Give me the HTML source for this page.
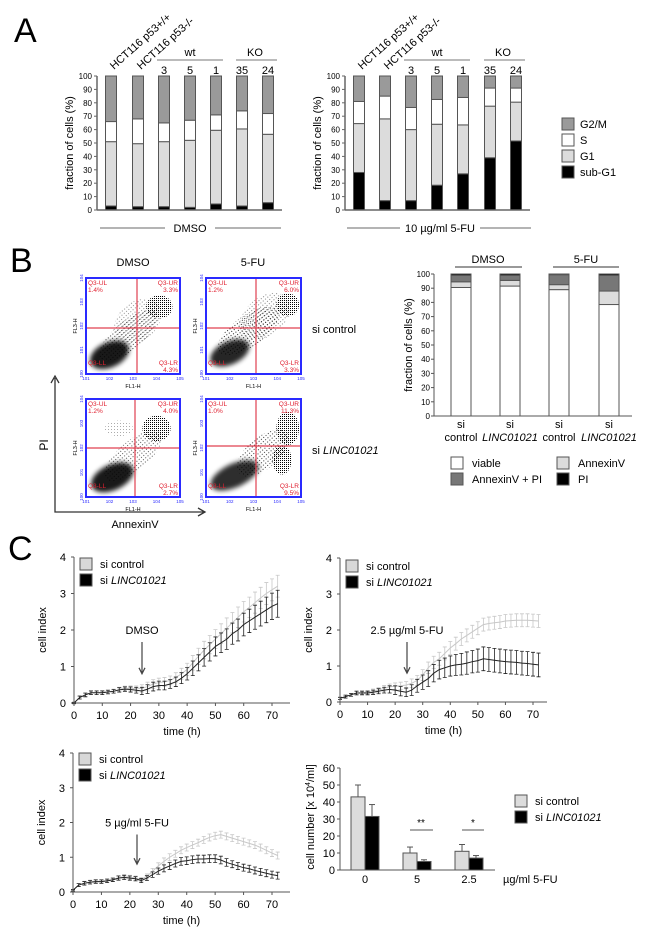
<!DOCTYPE html>
<html><head><meta charset="utf-8"><style>
html,body{margin:0;padding:0;background:#fff}
svg{display:block;font-family:"Liberation Sans",Arial,sans-serif}
</style></head><body>
<svg id="fig" width="650" height="934" viewBox="0 0 650 934" xmlns="http://www.w3.org/2000/svg">
<defs>
<filter id="blur" x="-50%" y="-50%" width="200%" height="200%"><feGaussianBlur stdDeviation="2.5"/></filter>
<pattern id="dots" width="3" height="3" patternUnits="userSpaceOnUse"><rect x="0" y="0" width="1" height="1" fill="#000"/></pattern>
<pattern id="dots2" width="2" height="2" patternUnits="userSpaceOnUse"><rect x="0" y="0" width="1" height="1" fill="#000"/></pattern>
</defs>
<text x="14" y="42" font-size="34">A</text>
<text x="10" y="272" font-size="34">B</text>
<text x="8" y="560" font-size="34">C</text>
</svg>
<script>
// ---------- data ----------
const aCats=["HCT116 p53+/+","HCT116 p53-/-","3","5","1","35","24"];
const aDmsoSub=[3,2.5,2.5,2,4.5,3,5.5];
const aDmsoG1=[48,47,48.5,50,55,57.5,51];
const aDmsoS=[15,18.5,14,15,11.5,13.5,15.5];
const aDmsoG2=[34,32,35,33,29,26,28];
const aFuSub=[28,7,7,18.5,27,39,51.5];
const aFuG1=[36.5,61,53,45.5,36.5,38.5,29];
const aFuS=[16.5,17,16.5,18.5,20.5,13.5,10.5];
const aFuG2=[19,15,23.5,17.5,16,9,9];
const pctTicks=[0,10,20,30,40,50,60,70,80,90,100];

const bViable=[90.5,91.5,89,78.5];
const bAnnexin=[4,4,3.5,9.5];
const bAnnPI=[4.5,3.5,7,11];
const bPI=[1,1,0.5,1];

const timeH=[0,2,4,6,8,10,12,14,16,18,20,22,24,26,28,30,32,34,36,38,40,42,44,46,48,50,52,54,56,58,60,62,64,66,68,70,72];
const c1Black=[0,0.15,0.22,0.28,0.28,0.28,0.3,0.32,0.36,0.38,0.37,0.35,0.33,0.38,0.45,0.48,0.48,0.52,0.58,0.68,0.8,0.95,1.1,1.25,1.4,1.55,1.65,1.75,1.9,2.0,2.15,2.25,2.35,2.45,2.55,2.65,2.72];
const c1BlackSd=[0.02,0.04,0.05,0.05,0.05,0.05,0.05,0.05,0.06,0.06,0.07,0.08,0.1,0.12,0.12,0.12,0.12,0.12,0.13,0.15,0.17,0.2,0.22,0.24,0.25,0.26,0.27,0.28,0.29,0.3,0.31,0.32,0.33,0.34,0.35,0.36,0.37];
const c1Gray=[0,0.15,0.23,0.28,0.28,0.29,0.31,0.33,0.37,0.4,0.4,0.39,0.4,0.45,0.52,0.56,0.58,0.62,0.7,0.8,0.92,1.1,1.28,1.45,1.6,1.75,1.9,2.05,2.2,2.35,2.5,2.62,2.75,2.88,3.0,3.1,3.2];
const c1GraySd=[0.02,0.04,0.05,0.05,0.05,0.05,0.05,0.05,0.06,0.06,0.07,0.08,0.1,0.12,0.12,0.12,0.12,0.12,0.13,0.15,0.17,0.2,0.22,0.24,0.25,0.26,0.27,0.28,0.28,0.28,0.28,0.28,0.29,0.29,0.3,0.3,0.3];
const c2Black=[0.1,0.15,0.2,0.25,0.25,0.25,0.27,0.3,0.33,0.35,0.33,0.3,0.27,0.33,0.45,0.55,0.65,0.8,0.9,0.95,1.0,1.03,1.05,1.08,1.12,1.15,1.2,1.18,1.16,1.14,1.12,1.11,1.1,1.08,1.07,1.05,1.03];
const c2BlackSd=[0.03,0.04,0.04,0.05,0.05,0.05,0.06,0.07,0.08,0.1,0.12,0.13,0.12,0.15,0.18,0.2,0.22,0.24,0.26,0.27,0.28,0.29,0.3,0.31,0.31,0.32,0.33,0.33,0.33,0.33,0.33,0.33,0.33,0.33,0.33,0.33,0.33];
const c2Gray=[0.1,0.15,0.2,0.25,0.26,0.27,0.3,0.33,0.38,0.42,0.44,0.45,0.47,0.52,0.6,0.75,0.95,1.1,1.2,1.35,1.5,1.62,1.75,1.85,1.95,2.05,2.15,2.18,2.2,2.22,2.25,2.26,2.27,2.27,2.27,2.26,2.25];
const c2GraySd=[0.03,0.04,0.04,0.05,0.05,0.05,0.06,0.07,0.08,0.08,0.09,0.1,0.1,0.12,0.14,0.15,0.16,0.17,0.18,0.18,0.18,0.18,0.18,0.18,0.18,0.18,0.18,0.18,0.18,0.18,0.18,0.18,0.18,0.18,0.18,0.18,0.18];
const c3Black=[0.05,0.2,0.25,0.28,0.3,0.3,0.32,0.35,0.4,0.42,0.4,0.38,0.33,0.4,0.5,0.6,0.68,0.75,0.82,0.88,0.9,0.93,0.95,0.95,0.96,0.96,0.92,0.85,0.8,0.75,0.7,0.67,0.62,0.58,0.54,0.5,0.47];
const c3BlackSd=[0.02,0.04,0.05,0.05,0.05,0.05,0.05,0.05,0.06,0.06,0.06,0.06,0.06,0.07,0.08,0.09,0.1,0.1,0.1,0.11,0.11,0.11,0.11,0.11,0.11,0.11,0.11,0.11,0.1,0.1,0.1,0.1,0.1,0.1,0.1,0.1,0.1];
const c3Gray=[0.05,0.2,0.26,0.29,0.31,0.31,0.33,0.36,0.41,0.44,0.42,0.4,0.36,0.45,0.6,0.75,0.88,1.0,1.1,1.2,1.28,1.35,1.42,1.5,1.57,1.62,1.65,1.6,1.55,1.5,1.45,1.4,1.35,1.28,1.2,1.12,1.05];
const c3GraySd=[0.02,0.04,0.05,0.05,0.05,0.05,0.05,0.05,0.06,0.06,0.06,0.06,0.06,0.07,0.08,0.09,0.1,0.1,0.1,0.1,0.1,0.1,0.1,0.1,0.1,0.1,0.1,0.1,0.1,0.1,0.1,0.1,0.1,0.1,0.1,0.1,0.1];
const ciTicks=[0,1,2,3,4];
const timeTicks=[0,10,20,30,40,50,60,70];

const dCats=["0","5","2.5"];
const dCtrl=[43,10,11];
const dCtrlErr=[7,3.5,4];
const dKd=[31.5,5,7];
const dKdErr=[7,1,1.5];
const dTicks=[0,10,20,30,40,50,60];

// ---------- helpers ----------
const NS="http://www.w3.org/2000/svg";
const svg=document.getElementById('fig');
function mk(tag,attrs,parent){const e=document.createElementNS(NS,tag);for(const k in attrs)e.setAttribute(k,attrs[k]);(parent||svg).appendChild(e);return e;}
function txt(x,y,s,size,anchor,extra,parent){const e=mk('text',Object.assign({x:x,y:y,'font-size':size,'text-anchor':anchor||'start'},extra||{}),parent);e.textContent=s;return e;}
function lin(d0,d1,r0,r1){return v=>r0+(v-d0)*(r1-r0)/(d1-d0);}

// ---------- Panel A stacked bars ----------
function stackChart(name,axX,axEnd,y0,y100,centers,segs,colors,ticks,bw){
  const y=lin(0,100,y0,y100);
  const g=mk('g',{});
  
  
  centers.forEach((cx,i)=>{
    let acc=0;
    segs.forEach((arr,s)=>{
      const r=mk('rect',{x:cx-bw/2,y:y(acc+arr[i]),width:bw,height:y(acc)-y(acc+arr[i]),fill:colors[s],stroke:'#555','stroke-width':1},g);
      
      
      acc+=arr[i];
    });
  });
  mk('line',{x1:axX,y1:y0,x2:axX,y2:y100,stroke:'#666','stroke-width':1.5},g);
  mk('line',{x1:axX,y1:y0,x2:axEnd,y2:y0,stroke:'#666','stroke-width':1.5},g);
  ticks.forEach(t=>{mk('line',{x1:axX-3,y1:y(t),x2:axX,y2:y(t),stroke:'#666'},g);txt(axX-5,y(t)+3,String(t),8,'end',{},g);});
  return g;
}
const aColors=['#000','#dcdcdc','#fff','#9a9a9a'];
const aLeftX=[111,138,164,190,216,242,268];
const aRightX=[359,385,411,437,463,490,516];
stackChart('dmso-cell-cycle-chart',97,282,210,76,aLeftX,[aDmsoSub,aDmsoG1,aDmsoS,aDmsoG2],aColors,pctTicks,11);
stackChart('5fu-cell-cycle-chart',345,530,210,76,aRightX,[aFuSub,aFuG1,aFuS,aFuG2],aColors,pctTicks,11);
txt(0,0,'fraction of cells (%)',11,'middle',{transform:'translate(73,143) rotate(-90)'});
txt(0,0,'fraction of cells (%)',11,'middle',{transform:'translate(321,143) rotate(-90)'});
[[aLeftX,0],[aRightX,0]].forEach(([xs])=>{
  for(let i=0;i<2;i++){const t=txt(0,0,aCats[i],11,'start',{transform:`translate(${xs[i]+3},${70}) rotate(-42)`});}
  for(let i=2;i<7;i++){const t=txt(xs[i],74,aCats[i],11,'middle');}
  mk('line',{x1:xs[2]-7,y1:60,x2:xs[4]+7,y2:60,stroke:'#777'});txt(xs[3],56,'wt',11,'middle');
  mk('line',{x1:xs[5]-6,y1:60,x2:xs[6]+9,y2:60,stroke:'#777'});txt((xs[5]+xs[6])/2,56,'KO',11,'middle');
});
mk('line',{x1:100,y1:228,x2:165,y2:228,stroke:'#888','stroke-width':1.2});mk('line',{x1:215,y1:228,x2:281,y2:228,stroke:'#888','stroke-width':1.2});
txt(190,232,'DMSO',11,'middle');
mk('line',{x1:347,y1:228,x2:400,y2:228,stroke:'#888','stroke-width':1.2});mk('line',{x1:480,y1:228,x2:531,y2:228,stroke:'#888','stroke-width':1.2});
txt(440,232,'10 µg/ml 5-FU',11,'middle');
[['G2/M','#9a9a9a',118],['S','#fff',134],['G1','#dcdcdc',150],['sub-G1','#000',166]].forEach(([l,c,yy])=>{
  const r=mk('rect',{x:562,y:yy,width:12,height:12,fill:c,stroke:'#555'});
  
  
  const t=txt(580,yy+10,l,11,'start');
  
  
});

// ---------- Panel B flow plots ----------
function flow(name,x0,y0,w,h,vx,hy,labels,dense){
  const g=mk('g',{});
  
  
  const cp='cp'+name;
  const clip=mk('clipPath',{id:cp},g);
  mk('rect',{x:x0,y:y0,width:w,height:h},clip);
  const cg=mk('g',{'clip-path':`url(#${cp})`},g);
  dense.forEach(([cx,cy,rx,ry,rot,op])=>{
    const attrs={cx:x0+cx*w,cy:y0+cy*h,rx:rx*w,ry:ry*h,transform:`rotate(${rot} ${x0+cx*w} ${y0+cy*h})`};
    if(op>=0.8){attrs.fill='#000';attrs['fill-opacity']=op;attrs.filter='url(#blur)';}
    else if(op>=0.45){attrs.fill='url(#dots2)';}
    else{attrs.fill='url(#dots)';attrs['fill-opacity']=Math.min(1,op*2.2);}
    mk('ellipse',attrs,cg);
  });
  mk('line',{x1:vx,y1:y0,x2:vx,y2:y0+h,stroke:'#e04050','stroke-width':1.2},g);
  mk('line',{x1:x0,y1:hy,x2:x0+w,y2:hy,stroke:'#e04050','stroke-width':1.2},g);
  mk('rect',{x:x0,y:y0,width:w,height:h,fill:'none',stroke:'#2a2aff','stroke-width':2},g);
  txt(x0+2,y0+7,'Q3-UL',6.5,'start',{fill:'#e02030'},g);txt(x0+2,y0+14,labels[0],6.5,'start',{fill:'#e02030'},g);
  txt(x0+w-2,y0+7,'Q3-UR',6.5,'end',{fill:'#e02030'},g);txt(x0+w-2,y0+14,labels[1],6.5,'end',{fill:'#e02030'},g);
  txt(x0+2,y0+h-9,'Q3-LL',6.5,'start',{fill:'#e02030'},g);
  txt(x0+w-2,y0+h-9,'Q3-LR',6.5,'end',{fill:'#e02030'},g);txt(x0+w-2,y0+h-2,labels[2],6.5,'end',{fill:'#e02030'},g);
  txt(x0+w/2,y0+h+14,'FL1-H',5.5,'middle',{},g);
  txt(0,0,'FL3-H',5.5,'middle',{transform:`translate(${x0-9},${y0+h/2}) rotate(-90)`},g);
  for(let i=0;i<5;i++)txt(x0+i*w/4,y0+h+6,'10'+(i+1),4.5,'middle',{fill:'#2a2aff'},g);
  for(let i=0;i<5;i++)txt(0,0,'10'+(i),4.5,'middle',{fill:'#2a2aff',transform:`translate(${x0-3},${y0+h-i*h/4}) rotate(-90)`},g);
}
const bBlobsA=[[0.45,0.6,0.38,0.15,-40,0.35],[0.55,0.45,0.28,0.2,-40,0.2],[0.25,0.8,0.22,0.13,-25,0.9],[0.78,0.3,0.14,0.12,0,0.5]];
const bBlobsB=[[0.45,0.55,0.38,0.16,-35,0.4],[0.62,0.4,0.3,0.2,-40,0.22],[0.25,0.78,0.22,0.12,-25,0.85],[0.86,0.28,0.12,0.12,0,0.55]];
const bBlobsC=[[0.5,0.58,0.38,0.15,-40,0.3],[0.35,0.3,0.15,0.08,0,0.15],[0.28,0.8,0.24,0.13,-25,0.9],[0.75,0.3,0.15,0.13,0,0.5]];
const bBlobsD=[[0.6,0.55,0.33,0.16,-40,0.35],[0.3,0.78,0.27,0.12,-25,0.82],[0.86,0.3,0.12,0.17,0,0.55],[0.8,0.62,0.1,0.15,0,0.5]];
flow('flow-dmso-sicontrol',86,278,94,96,137,328,['1.4%','3.3%','4.3%'],bBlobsA);
flow('flow-5fu-sicontrol',206,278,95,96,256,328,['1.2%','6.0%','3.3%'],bBlobsB);
flow('flow-dmso-silinc',86,399,94,98,135,448,['1.2%','4.0%','2.7%'],bBlobsC);
flow('flow-5fu-silinc',206,399,95,98,256,446,['1.0%','11.3%','9.5%'],bBlobsD);
txt(133,266,'DMSO',11,'middle');
txt(253,266,'5-FU',11,'middle');
const sc=txt(312,333,'si control',11,'start');
const sl=txt(312,454,'si ',11,'start');
const ts=document.createElementNS(NS,'tspan');ts.setAttribute('font-style','italic');ts.textContent='LINC01021';sl.appendChild(ts);
mk('path',{d:'M55,378 L55,512 L204,512 M51,383 L55,376 L59,383 M198,508 L205,512 L198,516',fill:'none',stroke:'#333','stroke-width':1.3});
txt(0,0,'PI',12,'middle',{transform:'translate(48,445) rotate(-90)'});
txt(135,528,'AnnexinV',11,'middle');

// ---------- Panel B apoptosis bars ----------
(function(){
  const y=lin(0,100,416,274),xs=[461,510,559,609];
  const g=mk('g',{});
  
  
  const segs=[bViable,bAnnexin,bAnnPI,bPI],cols=['#fff','#dcdcdc','#777','#000'];
  xs.forEach((cx,i)=>{let acc=0;segs.forEach((a,s)=>{const r=mk('rect',{x:cx-10,y:y(acc+a[i]),width:20,height:y(acc)-y(acc+a[i]),fill:cols[s],stroke:'#555'},g);acc+=a[i];});});
  mk('line',{x1:434,y1:416,x2:434,y2:274,stroke:'#555'},g);mk('line',{x1:434,y1:416,x2:632,y2:416,stroke:'#555'},g);
  pctTicks.forEach(t=>{mk('line',{x1:431,y1:y(t),x2:434,y2:y(t),stroke:'#555'},g);txt(430,y(t)+3,String(t),8,'end',{},g);});
  txt(0,0,'fraction of cells (%)',11,'middle',{transform:'translate(412,345) rotate(-90)'},g);
  const labs=['control','LINC01021','control','LINC01021'];
  xs.forEach((cx,i)=>{txt(cx,428,'si',11,'middle',{},g);txt(cx,441,labs[i],11,'middle',i%2?{'font-style':'italic'}:{},g);});
  mk('line',{x1:455,y1:267,x2:522,y2:267,stroke:'#333'},g);txt(488,263,'DMSO',11,'middle',{},g);
  mk('line',{x1:553,y1:267,x2:619,y2:267,stroke:'#333'},g);txt(586,263,'5-FU',11,'middle',{},g);
  [['viable','#fff',451,457],['AnnexinV + PI','#777',451,473],['AnnexinV','#dcdcdc',557,457],['PI','#000',557,473]].forEach(([l,c,xx,yy])=>{
    const r=mk('rect',{x:xx,y:yy,width:12,height:12,fill:c,stroke:'#555'},g);
    
    
    const t=txt(xx+21,yy+10,l,11,'start',{},g);
    
    
  });
})();

// ---------- Panel C growth curves ----------
function growth(name,ax,ay0,ay4,x70,xEnd,gray,graySd,black,blackSd,label,arrowX,legY){
  const X=lin(0,70,ax,x70),Y=lin(0,4,ay0,ay4);
  const g=mk('g',{});
  
  
  [[gray,graySd,'#c8c8c8'],[black,blackSd,'#222']].forEach(([m,sd,c])=>{
    let d='';
    timeH.forEach((t,i)=>{const x=X(t);d+=(i?'L':'M')+x+','+Y(m[i]);});
    const p=mk('path',{d:d,fill:'none',stroke:c,'stroke-width':1},g);
    
    
    timeH.forEach((t,i)=>{const x=X(t),y1=Y(m[i]+sd[i]),y2=Y(m[i]-sd[i]);
      mk('path',{d:`M${x},${y1}L${x},${y2}M${x-2},${y1}L${x+2},${y1}M${x-2},${y2}L${x+2},${y2}`,stroke:c,'stroke-width':0.8,fill:'none'},g);});
  });
  mk('line',{x1:ax,y1:ay0,x2:ax,y2:ay4,stroke:'#555'},g);mk('line',{x1:ax,y1:ay0,x2:xEnd,y2:ay0,stroke:'#555'},g);
  ciTicks.forEach(t=>{mk('line',{x1:ax-3,y1:Y(t),x2:ax,y2:Y(t),stroke:'#555'},g);txt(ax-8,Y(t)+4,String(t),11,'end',{},g);});
  timeTicks.forEach(t=>{mk('line',{x1:X(t),y1:ay0,x2:X(t),y2:ay0+3,stroke:'#555'},g);txt(X(t),ay0+16,String(t),11,'middle',{},g);});
  txt((ax+xEnd)/2,ay0+32,'time (h)',11,'middle',{},g);
  txt(0,0,'cell index',11,'middle',{transform:`translate(${ax-28},${(ay0+ay4)/2}) rotate(-90)`},g);
  txt(arrowX,Y(2)+4,label,11,'middle',{},g);
  mk('path',{d:`M${arrowX},${Y(2)+12}L${arrowX},${Y(0.8)}M${arrowX-3},${Y(0.8)-6}L${arrowX},${Y(0.8)}L${arrowX+3},${Y(0.8)-6}`,stroke:'#444','stroke-width':1.2,fill:'none'},g);
  [['#d8d8d8','si control',0],['#000','si ',16]].forEach(([c,l,dy],i)=>{
    const r=mk('rect',{x:ax+6,y:legY+dy,width:12,height:12,fill:c,stroke:'#555'},g);
    
    
    const t=txt(ax+26,legY+dy+10,l,11,'start',{},g);
    
    
    if(i){const s=document.createElementNS(NS,'tspan');s.setAttribute('font-style','italic');s.textContent='LINC01021';t.appendChild(s);}
  });
}
growth('growth-dmso',74,703,557,272,290,c1Gray,c1GraySd,c1Black,c1BlackSd,'DMSO',142,558);
growth('growth-2-5ug',340,702,558,533,547,c2Gray,c2GraySd,c2Black,c2BlackSd,'2.5 µg/ml 5-FU',407,560);
growth('growth-5ug',73,892,753,272,290,c3Gray,c3GraySd,c3Black,c3BlackSd,'5 µg/ml 5-FU',137,753);

// ---------- Panel C cell number bars ----------
(function(){
  const Y=lin(0,60,870,768),centers=[365,417,469];
  const g=mk('g',{});
  
  
  centers.forEach((cx,i)=>{
    [[dCtrl,dCtrlErr,'#dcdcdc',-14],[dKd,dKdErr,'#000',0]].forEach(([v,e,c,off])=>{
      mk('line',{x1:cx+off+7,y1:Y(v[i]),x2:cx+off+7,y2:Y(v[i]+e[i]),stroke:'#555'},g);
      mk('line',{x1:cx+off+4,y1:Y(v[i]+e[i]),x2:cx+off+10,y2:Y(v[i]+e[i]),stroke:'#555'},g);
      const r=mk('rect',{x:cx+off,y:Y(v[i]),width:14,height:Y(0)-Y(v[i]),fill:c,stroke:'#555'},g);
      
      
    });
    txt(cx,883,dCats[i],11,'middle',{},g);
  });
  mk('line',{x1:340,y1:870,x2:340,y2:768,stroke:'#555'},g);mk('line',{x1:340,y1:870,x2:495,y2:870,stroke:'#555'},g);
  dTicks.forEach(t=>{mk('line',{x1:337,y1:Y(t),x2:340,y2:Y(t),stroke:'#555'},g);txt(335,Y(t)+4,String(t),11,'end',{},g);});
  txt(503,883,'µg/ml 5-FU',11,'start',{},g);
  const yt=txt(0,0,'cell number [x 10',11,'middle',{transform:'translate(314,817) rotate(-90)'},g);
  const sup=document.createElementNS(NS,'tspan');sup.setAttribute('font-size','7');sup.setAttribute('dy','-4');sup.textContent='4';yt.appendChild(sup);
  const rest=document.createElementNS(NS,'tspan');rest.setAttribute('dy','4');rest.textContent='/ml]';yt.appendChild(rest);
  mk('line',{x1:410,y1:830,x2:433,y2:830,stroke:'#555'},g);txt(421,826,'**',10,'middle',{},g);
  mk('line',{x1:462,y1:830,x2:484,y2:830,stroke:'#555'},g);txt(473,826,'*',10,'middle',{},g);
  [['#dcdcdc','si control',795],['#000','si ',811]].forEach(([c,l,yy],i)=>{
    const r=mk('rect',{x:515,y:yy,width:12,height:12,fill:c,stroke:'#555'},g);
    
    
    const t=txt(535,yy+10,l,11,'start',{},g);
    
    
    if(i){const s=document.createElementNS(NS,'tspan');s.setAttribute('font-style','italic');s.textContent='LINC01021';t.appendChild(s);}
  });
})();
</script>
</body></html>
